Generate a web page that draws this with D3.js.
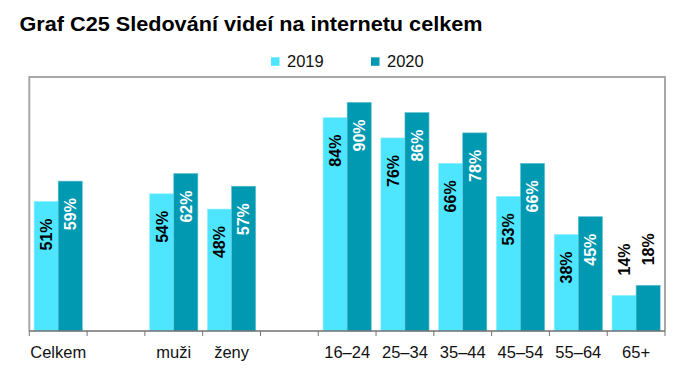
<!DOCTYPE html>
<html>
<head>
<meta charset="utf-8">
<script src="https://cdn.jsdelivr.net/npm/d3@7"></script>
<style>
  body { margin: 0; background: #fff; }
  text { font-family: "Liberation Sans", Arial, sans-serif; }
</style>
</head>
<body>
<div id="chart"></div>
<script>
// chart values
const groups = [["Celkem"], ["muži", "ženy"], ["16–24", "25–34", "35–44", "45–54", "55–64", "65+"]];
const years = ["2019", "2020"];
const values2019 = [51, 54, 48, 84, 76, 66, 53, 38, 14];
const values2020 = [59, 62, 57, 90, 86, 78, 66, 45, 18];

const width = 700, height = 373;
const colors = ["#4de5ff", "#0099b2"];
const labelColors = ["#000", "#fff"];

// one empty slot between groups
const slots = [];
groups.forEach((g, gi) => {
  if (gi > 0) slots.push(null);
  g.forEach(c => slots.push(c));
});
const categories = groups.flat();
const data = categories.map((c, i) => ({ cat: c, slot: slots.indexOf(c), vals: [values2019[i], values2020[i]] }));

const svg = d3.select("#chart").append("svg")
  .attr("width", width)
  .attr("height", height);

const plot = { left: 29.3, right: 665, top: 77, bottom: 331 };

const x0 = d3.scaleBand()
  .domain(d3.range(slots.length))
  .range([plot.left, plot.right])
  .paddingInner(0)
  .paddingOuter(0);

const x1 = d3.scaleBand()
  .domain(years)
  .range([0, x0.bandwidth()])
  .paddingInner(0)
  .paddingOuter(0.2);

const y = d3.scaleLinear().domain([0, 100]).range([plot.bottom, plot.top]);

// title
svg.append("text")
  .attr("x", 19.5)
  .attr("y", 31)
  .attr("font-size", "20.5px")
  .attr("font-weight", "bold")
  .attr("fill", "#000")
  .attr("textLength", 463)
  .attr("lengthAdjust", "spacingAndGlyphs")
  .text("Graf C25 Sledování videí na internetu celkem");

// legend
const legend = svg.append("g");
years.forEach((yr, i) => {
  const lx = 271 + i * 100;
  legend.append("rect")
    .attr("x", lx).attr("y", 57.3)
    .attr("width", 8.5).attr("height", 8.5)
    .attr("fill", colors[i]);
  legend.append("text")
    .attr("x", lx + 16).attr("y", 66.7)
    .attr("font-size", "16.5px")
    .attr("fill", "#111")
    .text(yr);
});

// frame
svg.append("path")
  .attr("d", `M${plot.left},${plot.bottom}V${plot.top}H${plot.right}V${plot.bottom}`)
  .attr("fill", "none")
  .attr("stroke", "#a8a8a8")
  .attr("stroke-width", 2);

// bars
const gBars = svg.append("g");
const cat = gBars.selectAll("g")
  .data(data)
  .join("g")
  .attr("transform", d => `translate(${x0(d.slot)},0)`);

cat.selectAll("rect")
  .data(d => d.vals.map((v, i) => ({ year: years[i], i, v })))
  .join("rect")
  .attr("x", d => x1(d.year))
  .attr("y", d => y(d.v))
  .attr("width", x1.bandwidth())
  .attr("height", d => y(0) - y(d.v))
  .attr("fill", d => colors[d.i])
  .attr("stroke", d => d.i ? "#5fc0cf" : "#8cefff")
  .attr("stroke-width", 0.6);

// value labels (rotated)
cat.selectAll("text")
  .data(d => d.vals.map((v, i) => ({ year: years[i], i, v })))
  .join("text")
  .attr("transform", d => {
    const cx = x1(d.year) + x1.bandwidth() / 2;
    const inside = d.v >= 25;
    const ty = inside ? y(d.v) + 17 : y(d.v) - 20;
    return `translate(${cx},${ty}) rotate(-90)`;
  })
  .attr("text-anchor", d => d.v >= 25 ? "end" : "start")
  .attr("dy", "0.36em")
  .attr("font-size", "16px")
  .attr("font-weight", "bold")
  .attr("fill", d => d.v >= 25 ? labelColors[d.i] : "#000")
  .text(d => d.v + "%");

// x axis
const axis = svg.append("g");
axis.append("line")
  .attr("x1", plot.left).attr("x2", plot.right)
  .attr("y1", plot.bottom).attr("y2", plot.bottom)
  .attr("stroke", "#707070")
  .attr("stroke-width", 1.5);

axis.selectAll(".tick")
  .data(d3.range(slots.length + 1))
  .join("line")
  .attr("class", "tick")
  .attr("x1", i => i < slots.length ? x0(i) : plot.right)
  .attr("x2", i => i < slots.length ? x0(i) : plot.right)
  .attr("y1", plot.bottom)
  .attr("y2", plot.bottom + 5)
  .attr("stroke", "#707070")
  .attr("stroke-width", 1);

axis.selectAll(".lbl")
  .data(data)
  .join("text")
  .attr("class", "lbl")
  .attr("x", d => x0(d.slot) + x0.bandwidth() / 2)
  .attr("y", 357.5)
  .attr("text-anchor", "middle")
  .attr("font-size", "16.5px")
  .attr("fill", "#111")
  .text(d => d.cat);
</script>
</body>
</html>
